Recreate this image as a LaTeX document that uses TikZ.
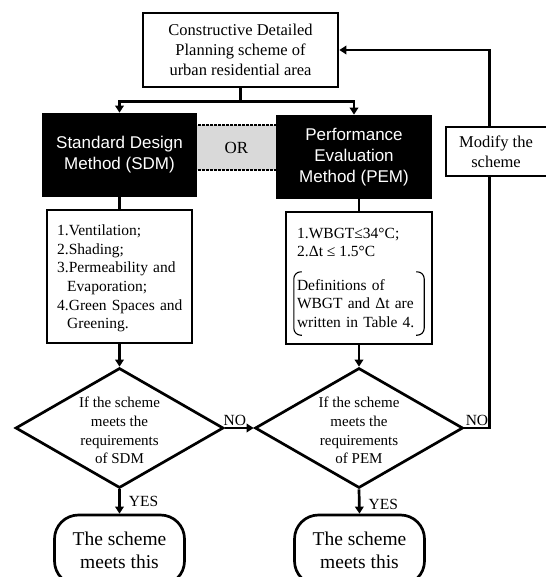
\documentclass[tikz,border=0pt]{standalone}
\usepackage{fontspec}
\setmainfont{Liberation Serif}
\newfontfamily\arialf{Liberation Sans}
\usetikzlibrary{shapes.geometric,arrows.meta,calc}
\definecolor{orgray}{RGB}{217,217,217}
\begin{document}
\begin{tikzpicture}[x=1pt,y=-1pt,
  lw/.style={line width=2.7pt},
  arr/.style={lw,-{Triangle[length=7pt,width=8.5pt]}},
  box/.style={draw,lw,rectangle,inner sep=0pt,align=center},
  blackbox/.style={box,fill=black,text=white,font=\arialf\fontsize{17}{21}\selectfont},
  listtext/.style={font=\fontsize{15.5}{18.7}\selectfont,align=left,inner sep=0pt},
  dia/.style={draw,lw,shape=diamond,inner sep=0pt,minimum width=208pt,minimum height=120pt},
  diatext/.style={font=\fontsize{15}{18.7}\selectfont,align=center,inner sep=0pt},
  term/.style={draw,lw,rectangle,rounded corners=24pt,inner sep=0pt,align=center,
    minimum width=130pt,minimum height=70pt,font=\fontsize{19.5}{23.3}\selectfont},
  lab/.style={font=\fontsize{15.5}{18}\selectfont,inner sep=1pt},
  dots/.style={line width=2.2pt,dash pattern=on 2.2pt off 1.8pt}
]
\useasboundingbox (0,0) rectangle (545,577);

% top box
\node[box,minimum width=195pt,minimum height=74pt,font=\fontsize{16.5}{20}\selectfont] (top) at (240.5,50)
  {Constructive Detailed\\Planning scheme of\\urban residential area};

% OR band
\node[fill=orgray,inner sep=0pt,minimum width=84pt,minimum height=45pt,
  font=\fontsize{17}{20}\selectfont] (or) at (236.5,147.5) {OR};
\draw[dots] (or.north west) -- (or.north east);
\draw[dots] (or.south west) -- (or.south east);

% method boxes
\node[blackbox,minimum width=153pt,minimum height=82pt] (sdm) at (119.5,155) {Standard Design\\Method (SDM)};
\node[blackbox,minimum width=154pt,minimum height=82pt] (pem) at (354,157) {Performance\\Evaluation\\Method (PEM)};

% split arrows
\draw[lw] (top.south) -- ++(0,13.5) coordinate (split);
\draw[arr] (split) -| (sdm.north);
\draw[arr] (split) -| (pem.north);

% list boxes
\node[box,minimum width=145pt,minimum height=133pt] (sdmlist) at (119.5,276.5) {};
\node[listtext,text width=134pt,anchor=west] (sdmtext) at (57,278.5)
  {1.Ventilation;\\2.Shading;\\3.Permeability and\\\hspace*{10pt}Evaporation;\\4.Green Spaces and\\\hspace*{10pt}Greening.};

\node[box,minimum width=146pt,minimum height=132pt] (pemlist) at (359,278) {};
\node[listtext,anchor=west] (crit) at (297,242.5) {1.WBGT≤34°C;\\2.Δt ≤ 1.5°C};
\node[listtext,text width=124pt,minimum width=130pt,minimum height=63pt] (defs) at (359,303.5)
  {Definitions of\\WBGT and Δt are\\written in Table 4.};
\draw[line width=1.1pt,rounded corners=7pt] ([xshift=8pt]defs.north west) -- (defs.north west) -- (defs.south west) -- ([xshift=8pt]defs.south west);
\draw[line width=1.1pt,rounded corners=7pt] ([xshift=-8pt]defs.north east) -- (defs.north east) -- (defs.south east) -- ([xshift=-8pt]defs.south east);

\draw[lw] (sdm.south) -- (sdmlist.north);
\draw[lw] (pemlist.north |- pem.south) -- (pemlist.north);

% diamonds
\node[dia] (d1) at (119.5,428) {};
\node[diatext] (d1t) at (119.5,430.5) {If the scheme\\meets the\\requirements\\of SDM};
\node[dia] (d2) at (359,428) {};
\node[diatext] (d2t) at (359,430.5) {If the scheme\\meets the\\requirements\\of PEM};

\draw[arr] (sdmlist.south) -- (d1.north);
\draw[arr] (pemlist.south) -- (d2.north);

\draw[arr] (d1.east) -- (d2.west) node[lab,pos=0.35,above] {NO};

% modify
\node[box,minimum width=108pt,minimum height=49pt,font=\fontsize{16.5}{20}\selectfont] (mod) at (500,151.5) {\hspace*{-8pt}Modify the\\\hspace*{-8pt}scheme};
\coordinate (fbx) at (489.5,0);
\draw[lw] (d2.east) -| (fbx |- mod.south) node[lab,pos=0.5,above left,xshift=1pt] {NO};
\draw[arr] (fbx |- mod.north) |- (top.east);

% terminals
\node[term] (t1) at (119.5,550) {The scheme\\meets this};
\node[term] (t2) at (359.5,550) {The scheme\\meets this};
\draw[arr] (d1.south) -- (t1.north) node[lab,midway,right=7pt] {YES};
\draw[arr] (d2.south) -- (t2.north) node[lab,midway,right=7pt,yshift=-3pt] {YES};
\end{tikzpicture}
\end{document}
